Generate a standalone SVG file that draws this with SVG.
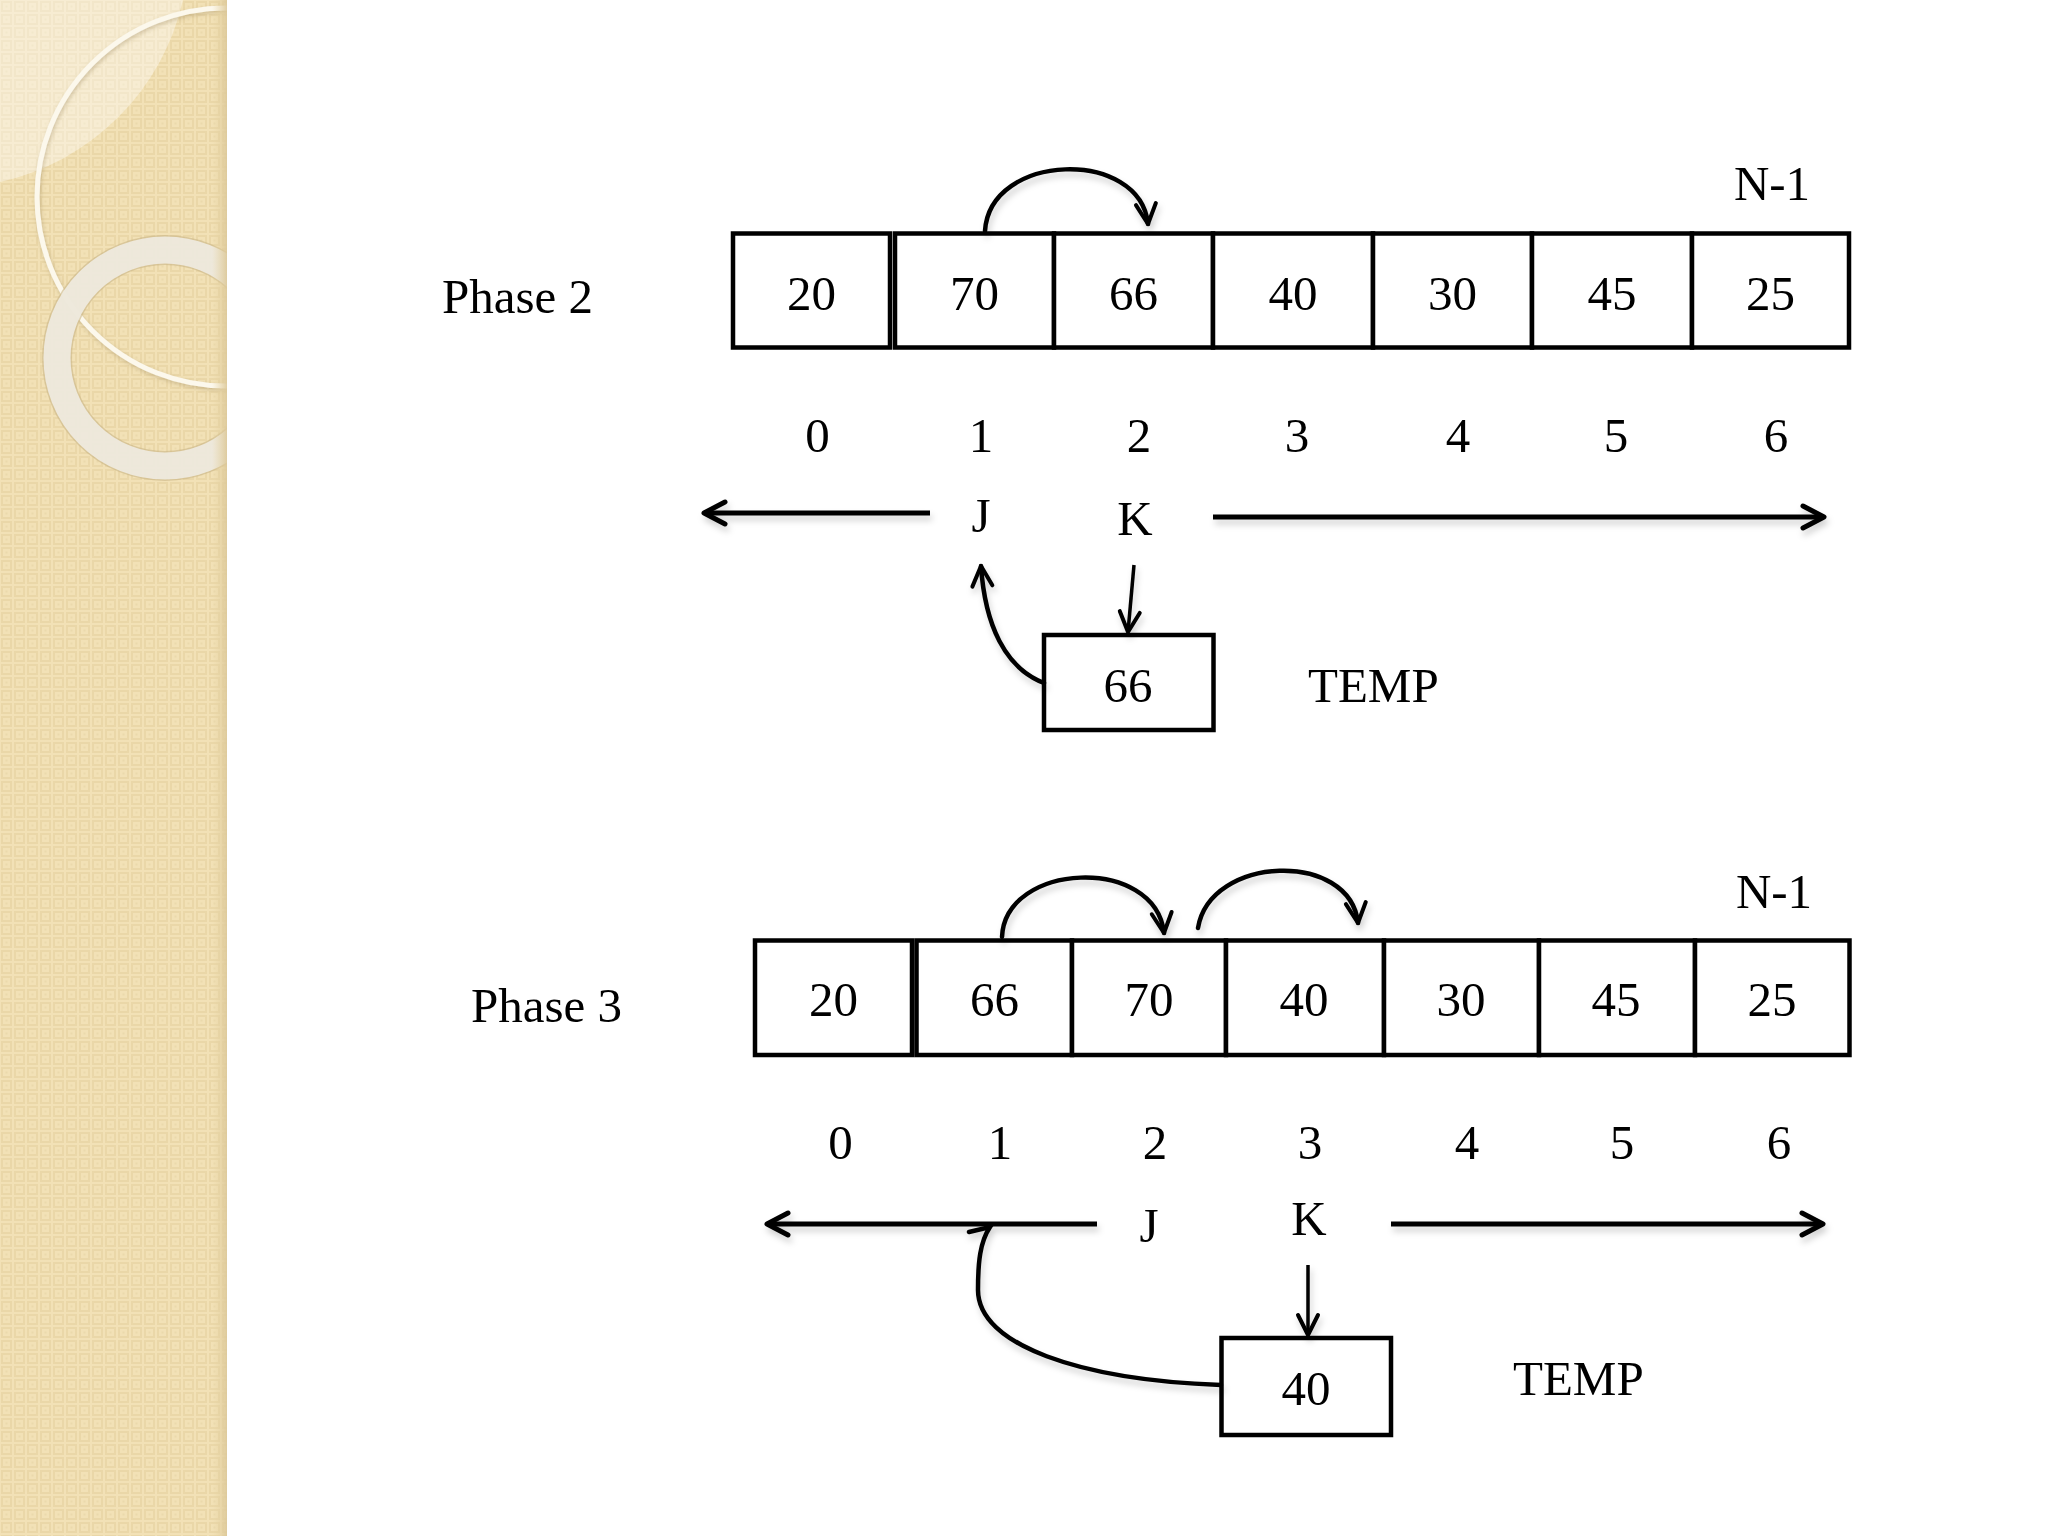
<svg xmlns="http://www.w3.org/2000/svg" width="2048" height="1536" viewBox="0 0 2048 1536">
<defs>
<style>
.cell{fill:#fff;stroke:#000;stroke-width:4.5}
.t{font-family:'Liberation Serif','Times New Roman',serif;font-size:49px;fill:#000}
.m{text-anchor:middle}
.ln{fill:none;stroke:#000;stroke-width:5;stroke-linecap:butt}
.cv{fill:none;stroke:#000;stroke-width:4.5;stroke-linecap:round}
.th{fill:none;stroke:#000;stroke-width:3.5}
</style>
<pattern id="pat" x="0" y="0" width="13" height="13" patternUnits="userSpaceOnUse">
<rect width="13" height="13" fill="#F2E1B6"/>
<rect x="2" y="2" width="9" height="9" fill="none" stroke="#EAD7A8" stroke-width="2"/>
<rect x="5.5" y="5.5" width="2" height="2" fill="#EBD9AC"/>
</pattern>
<linearGradient id="edge" x1="0" y1="0" x2="1" y2="0">
<stop offset="0" stop-color="#E8D5A4" stop-opacity="0"/>
<stop offset="1" stop-color="#DCC899" stop-opacity="0.9"/>
</linearGradient>
<clipPath id="side"><rect x="0" y="0" width="227" height="1536"/></clipPath>
<filter id="sh" x="-10%" y="-30%" width="120%" height="160%">
<feDropShadow dx="2" dy="5" stdDeviation="3" flood-color="#000" flood-opacity="0.18"/>
</filter>
<filter id="sh2" x="-20%" y="-20%" width="140%" height="140%">
<feDropShadow dx="1" dy="2" stdDeviation="2" flood-color="#8a7548" flood-opacity="0.35"/>
</filter>
<marker id="ah" markerUnits="userSpaceOnUse" orient="auto" refX="0" refY="0" markerWidth="40" markerHeight="40" overflow="visible">
<path d="M-21,-11 L0,0 L-21,11" fill="none" stroke="#000" stroke-width="5" stroke-linecap="round" stroke-linejoin="round"/>
</marker>
<marker id="ah2" markerUnits="userSpaceOnUse" orient="auto" refX="0" refY="0" markerWidth="40" markerHeight="40" overflow="visible">
<path d="M-20,-10 L0,0 L-20,10" fill="none" stroke="#000" stroke-width="4" stroke-linecap="round" stroke-linejoin="round"/>
</marker>
</defs>

<rect x="0" y="0" width="2048" height="1536" fill="#fff"/>

<g id="sidebar" clip-path="url(#side)">
<rect x="0" y="0" width="227" height="1536" fill="url(#pat)"/>
<path d="M0,0 L183,0 A241,241 0 0 1 0,182 Z" fill="#fff" fill-opacity="0.38"/>
<circle cx="226" cy="197" r="189" fill="none" stroke="#FCF8EC" stroke-width="5" filter="url(#sh2)"/>
<circle cx="165" cy="358" r="108" fill="none" stroke="#C9B587" stroke-width="30" stroke-opacity="0.6"/>
<circle cx="165" cy="358" r="108" fill="none" stroke="#EFEBE0" stroke-width="27" stroke-opacity="0.93"/>
<rect x="212" y="0" width="15" height="1536" fill="url(#edge)"/>
</g>

<g id="phase2-label"><text class="t" x="442" y="313">Phase 2</text></g>
<g id="phase2-n1"><text class="t m" x="1772" y="200">N-1</text></g>

<g id="p2-c0"><rect class="cell" x="733" y="233.5" width="157" height="114"/><text class="t m" x="811.5" y="310">20</text></g>
<g id="p2-c1"><rect class="cell" x="895" y="233.5" width="159" height="114"/><text class="t m" x="974.5" y="310">70</text></g>
<g id="p2-c2"><rect class="cell" x="1054" y="233.5" width="159" height="114"/><text class="t m" x="1133.5" y="310">66</text></g>
<g id="p2-c3"><rect class="cell" x="1213" y="233.5" width="160" height="114"/><text class="t m" x="1293" y="310">40</text></g>
<g id="p2-c4"><rect class="cell" x="1373" y="233.5" width="159" height="114"/><text class="t m" x="1452.5" y="310">30</text></g>
<g id="p2-c5"><rect class="cell" x="1532" y="233.5" width="160" height="114"/><text class="t m" x="1612" y="310">45</text></g>
<g id="p2-c6"><rect class="cell" x="1692" y="233.5" width="157" height="114"/><text class="t m" x="1770.5" y="310">25</text></g>

<g id="p2-idx">
<text class="t m" x="817.5" y="452">0</text>
<text class="t m" x="981" y="452">1</text>
<text class="t m" x="1139" y="452">2</text>
<text class="t m" x="1297" y="452">3</text>
<text class="t m" x="1458" y="452">4</text>
<text class="t m" x="1616" y="452">5</text>
<text class="t m" x="1776" y="452">6</text>
</g>
<g id="p2-j"><text class="t m" x="981" y="532">J</text></g>
<g id="p2-k"><text class="t m" x="1135" y="535">K</text></g>
<g id="p2-temp"><rect class="cell" x="1044" y="635" width="169.5" height="95"/><text class="t m" x="1128" y="702">66</text></g>
<g id="p2-templabel"><text class="t" x="1308" y="702">TEMP</text></g>

<g id="phase3-label"><text class="t" x="471" y="1022">Phase 3</text></g>
<g id="phase3-n1"><text class="t m" x="1774" y="908">N-1</text></g>

<g id="p3-c0"><rect class="cell" x="755" y="940.5" width="157" height="114.5"/><text class="t m" x="833.5" y="1016">20</text></g>
<g id="p3-c1"><rect class="cell" x="916.5" y="940.5" width="155.5" height="114.5"/><text class="t m" x="994.5" y="1016">66</text></g>
<g id="p3-c2"><rect class="cell" x="1072" y="940.5" width="154" height="114.5"/><text class="t m" x="1149" y="1016">70</text></g>
<g id="p3-c3"><rect class="cell" x="1226" y="940.5" width="158" height="114.5"/><text class="t m" x="1304" y="1016">40</text></g>
<g id="p3-c4"><rect class="cell" x="1384" y="940.5" width="155" height="114.5"/><text class="t m" x="1461" y="1016">30</text></g>
<g id="p3-c5"><rect class="cell" x="1539" y="940.5" width="156" height="114.5"/><text class="t m" x="1616" y="1016">45</text></g>
<g id="p3-c6"><rect class="cell" x="1695" y="940.5" width="154.5" height="114.5"/><text class="t m" x="1772" y="1016">25</text></g>

<g id="p3-idx">
<text class="t m" x="840.5" y="1159">0</text>
<text class="t m" x="1000" y="1159">1</text>
<text class="t m" x="1155" y="1159">2</text>
<text class="t m" x="1310" y="1159">3</text>
<text class="t m" x="1467" y="1159">4</text>
<text class="t m" x="1622" y="1159">5</text>
<text class="t m" x="1779" y="1159">6</text>
</g>
<g id="p3-j"><text class="t m" x="1149" y="1242">J</text></g>
<g id="p3-k"><text class="t m" x="1309" y="1235">K</text></g>
<g id="p3-temp"><rect class="cell" x="1221.5" y="1338" width="169.5" height="97"/><text class="t m" x="1306" y="1405">40</text></g>
<g id="p3-templabel"><text class="t" x="1513" y="1395">TEMP</text></g>

<g id="connectors" filter="url(#sh)">
<path class="cv" d="M985,231 C990,152 1140,148 1148,224" marker-end="url(#ah2)"/>
<path class="ln" d="M930,513 L704,513" marker-end="url(#ah)"/>
<path class="ln" d="M1213,517 L1824,517" marker-end="url(#ah)"/>
<path class="th" d="M1134,565 L1128,632" marker-end="url(#ah2)"/>
<path class="cv" d="M1044,683 C1005,668 985,625 981,566" marker-end="url(#ah2)"/>

<path class="cv" d="M1002,937 C1005,862 1155,855 1164,933" marker-end="url(#ah2)"/>
<path class="cv" d="M1198,928 C1210,855 1350,850 1358,923" marker-end="url(#ah2)"/>
<path class="ln" d="M1097,1224 L767,1224" marker-end="url(#ah)"/>
<path class="ln" d="M1391,1224 L1823,1224" marker-end="url(#ah)"/>
<path class="th" d="M1308,1265 L1308,1335" marker-end="url(#ah2)"/>
<path class="cv" d="M1221,1385 C1080,1380 978,1345 978,1290 C978,1262 980,1242 990,1227 L969,1232"/>
</g>
</svg>
